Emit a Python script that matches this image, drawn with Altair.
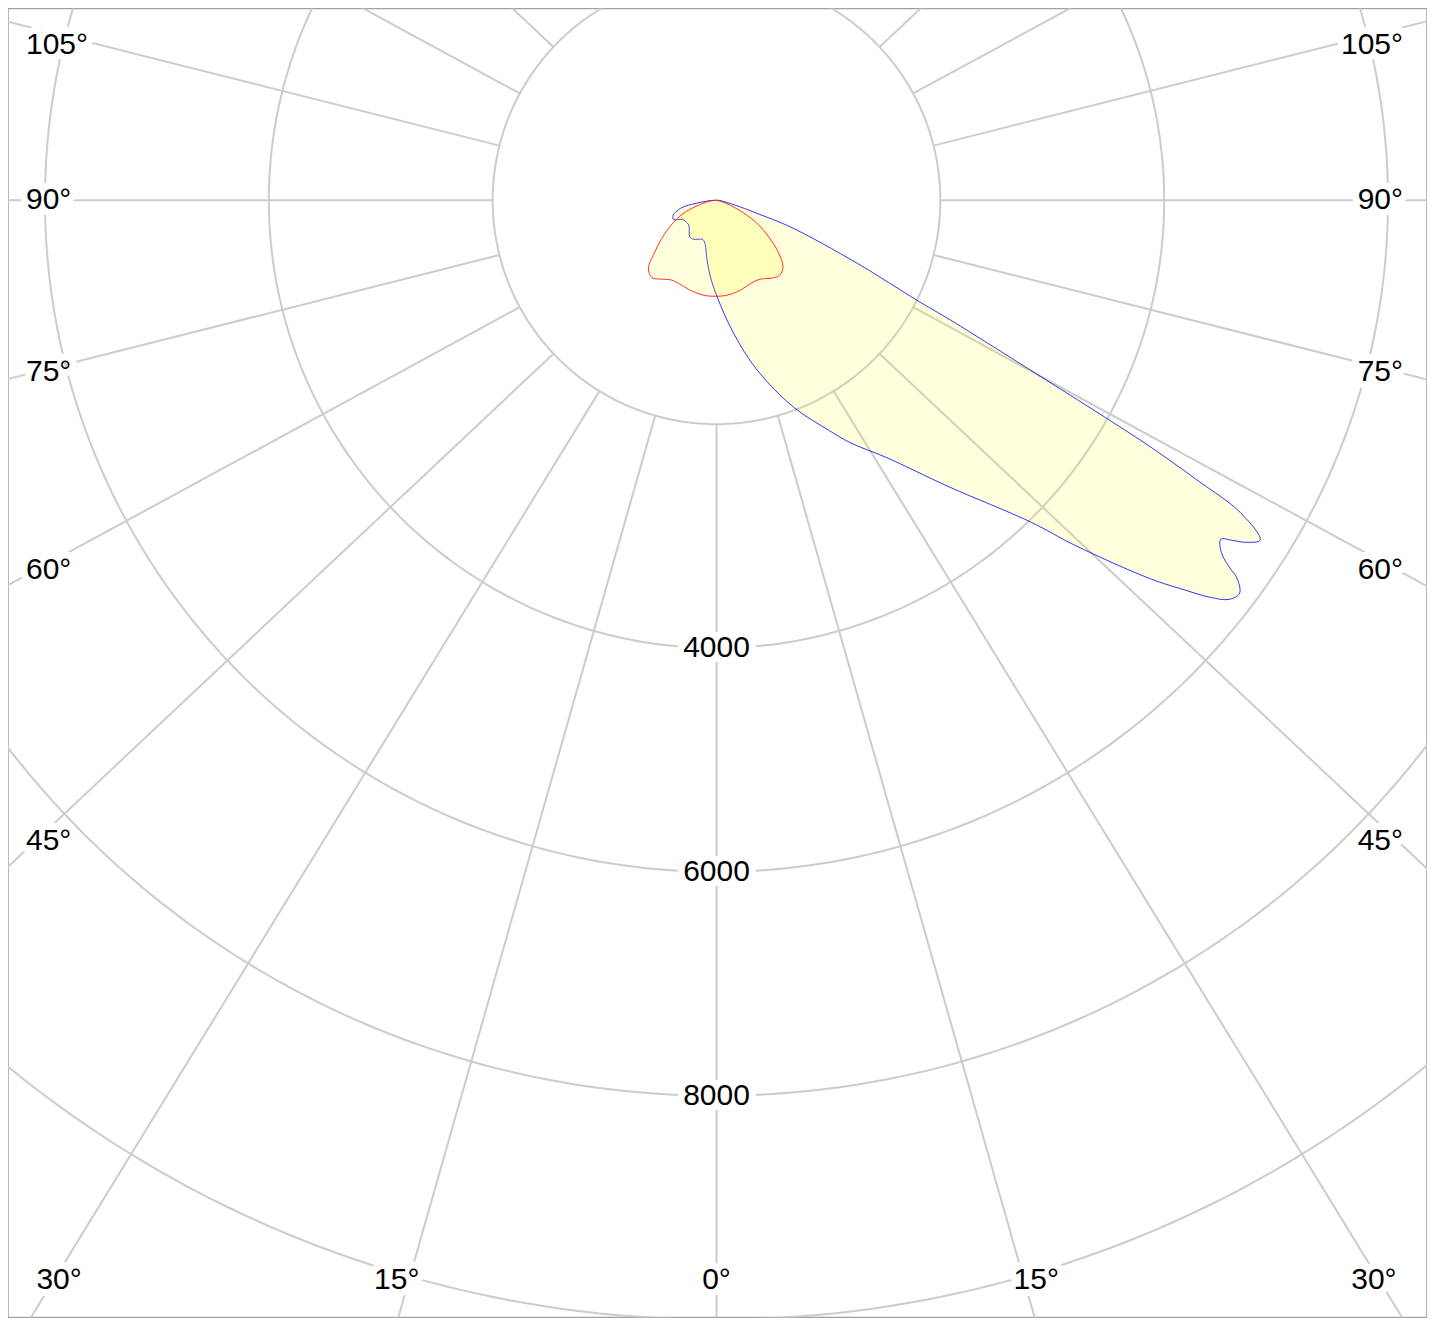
import numpy as np
import pandas as pd
import altair as alt

# ---------------- data ----------------
# luminous intensity vs. gamma angle; negative angle = left half of the plane
red_angles = [-180, -90, -85, -80, -75, -70, -65, -60, -55, -50, -45, -40, -35, -30,
              -25, -20, -15, -10, -5, 0, 5, 10, 15, 20, 25, 30, 35, 40, 45, 50, 55,
              60, 65, 70, 75, 80, 85, 90, 180]
red_values = [0, 20, 45, 90, 165, 285, 390, 490, 600, 720, 860, 900, 860, 820,
              815, 826, 840, 852, 858, 857, 855, 845, 830, 810, 800, 810, 850, 875,
              840, 720, 570, 430, 270, 133, 60, 25, 12, 5, 0]

blue_angles = [-180, -90, -82, -77.5, -70.9, -65.8, -61, -55.9, -48, -36, -30.2,
               -20.1, -16, -9, -4.5, 0.4, 7.3, 13.5, 20.4, 26.0, 29.0, 33.4, 39.1,
               44.3, 46.1, 48.9, 50.2, 51.2, 52.1, 53.1, 54.1, 54.3, 55.1, 56.1,
               56.6, 57.1, 58.0, 59.2, 59.8, 60.4, 60.8, 61.4, 62.9, 63.5, 65.9,
               70.2, 72, 74.4, 76.7, 85, 90, 180]
blue_values = [0, 30, 174, 329, 409, 420, 350, 335, 333, 405, 403,
               371, 388, 540, 688, 863, 1196, 1561, 1970, 2285, 2480, 2750, 3301,
               4013, 4446, 5143, 5435, 5661, 5804, 5845, 5732, 5667, 5500, 5429,
               5518, 5625, 5728, 5450, 4967, 4457, 3995, 3362, 2348, 2002, 1377,
               703, 400, 222, 128, 40, 15, 0]

ring_values = [2000, 4000, 6000, 8000, 10000]
ring_labels = ["4000", "6000", "8000"]
spoke_step = 15
side_label_angles = [105, 90, 75, 60, 45]
bottom_label_angles = [-30, -15, 0, 15, 30]

# ---------------- geometry ----------------
K = 0.112            # pixels per unit
W, H = 1420, 1310    # plot area
CX, CY = 717, 200    # pole position on the page
OX, OY = 8, 8        # plot origin on the page
SPOKE_STRETCH = 1.063  # the reference's spokes are drawn slightly wider than true angle

x_dom = [(OX - CX) / K, (OX + W - CX) / K]
y_dom = [(CY - (OY + H)) / K, (CY - OY) / K]
xs = alt.Scale(domain=x_dom, nice=False, zero=False)
ys = alt.Scale(domain=y_dom, nice=False, zero=False)


def polar(theta_deg, r):
    t = np.radians(np.asarray(theta_deg, dtype=float))
    r = np.asarray(r, dtype=float)
    return r * np.sin(t), -r * np.cos(t)


def page_to_data(px, py):
    return (px - CX) / K, (CY - py) / K


# grid circles
rows = []
for rv in ring_values:
    for j, a in enumerate(np.arange(0, 361, 1.0)):
        x, y = polar(a, rv)
        rows.append({"ring": rv, "i": j, "x": float(x), "y": float(y)})
df_rings = pd.DataFrame(rows)

# spokes (start on the innermost ring)
rows = []
for a in range(0, 360, spoke_step):
    t = np.radians(a)
    dx, dy = SPOKE_STRETCH * np.sin(t), -np.cos(t)
    n = np.hypot(dx, dy)
    dx, dy = dx / n, dy / n
    for j, rv in enumerate([ring_values[0], 16000]):
        rows.append({"spoke": a, "i": j, "x": float(dx * rv), "y": float(dy * rv)})
df_spokes = pd.DataFrame(rows)


def curve_df(angles, values):
    x, y = polar(angles, values)
    return pd.DataFrame({"i": range(len(angles)), "x": x, "y": y})


df_red = curve_df(red_angles, red_values)
df_blue = curve_df(blue_angles, blue_values)

# labels
rows_l, rows_r, rows_c = [], [], []
for a in side_label_angles:
    py = max(45.0, CY + 641.0 / np.tan(np.radians(a)))
    x, y = page_to_data(26, py)
    rows_l.append({"t": f"{a}°", "x": x, "y": y})
    x, y = page_to_data(1404, py)
    rows_r.append({"t": f"{a}°", "x": x, "y": y})
for a in bottom_label_angles:
    off = 1092.0 * np.tan(np.radians(abs(a))) + 27.4 if a != 0 else 0.0
    px = CX + np.sign(a) * off
    x, y = page_to_data(px, 1280)
    rows_c.append({"t": f"{abs(a)}°", "x": x, "y": y})
for lab in ring_labels:
    rv = float(lab)
    x, y = polar(0, rv)
    rows_c.append({"t": lab, "x": float(x), "y": float(y)})
df_l, df_r, df_c = pd.DataFrame(rows_l), pd.DataFrame(rows_r), pd.DataFrame(rows_c)

X = alt.X("x:Q", scale=xs, axis=None)
Y = alt.Y("y:Q", scale=ys, axis=None)
GRID = "#cccccc"
FONT = "Liberation Sans"
FS = 30

rings = alt.Chart(df_rings).mark_line(stroke=GRID, strokeWidth=2, clip=True).encode(
    x=X, y=Y, detail="ring:N", order="i:Q")
spokes = alt.Chart(df_spokes).mark_line(stroke=GRID, strokeWidth=2, clip=True).encode(
    x=X, y=Y, detail="spoke:N", order="i:Q")

# both outlines start and end at the pole, so the filled path closes itself
blue = alt.Chart(df_blue).mark_line(
    interpolate="catmull-rom", fill="#ffff00", fillOpacity=0.14,
    stroke="#0000ff", strokeWidth=0.8, clip=True).encode(x=X, y=Y, order="i:Q")
red = alt.Chart(df_red).mark_line(
    interpolate="catmull-rom", fill="#ffff00", fillOpacity=0.14,
    stroke="#ff0000", strokeWidth=0.8, clip=True).encode(x=X, y=Y, order="i:Q")


def text_layers(df, align):
    halo = alt.Chart(df).mark_text(
        align=align, baseline="middle", font=FONT, fontSize=FS,
        fill="white", stroke="white", strokeWidth=14, strokeJoin="round").encode(
        x=X, y=Y, text="t:N")
    txt = alt.Chart(df).mark_text(
        align=align, baseline="middle", font=FONT, fontSize=FS,
        fill="black").encode(x=X, y=Y, text="t:N")
    return [halo, txt]


layers = [rings, spokes, blue, red]
layers += text_layers(df_l, "left")
layers += text_layers(df_r, "right")
layers += text_layers(df_c, "center")

chart = alt.layer(*layers).properties(
    width=W, height=H, padding=0, autosize=alt.AutoSizeParams(type="none"),
    background="white"
).configure_view(stroke="#a0a0a0", strokeWidth=1.5)

chart.save("out.html", embed_options={"renderer": "svg", "actions": False})
